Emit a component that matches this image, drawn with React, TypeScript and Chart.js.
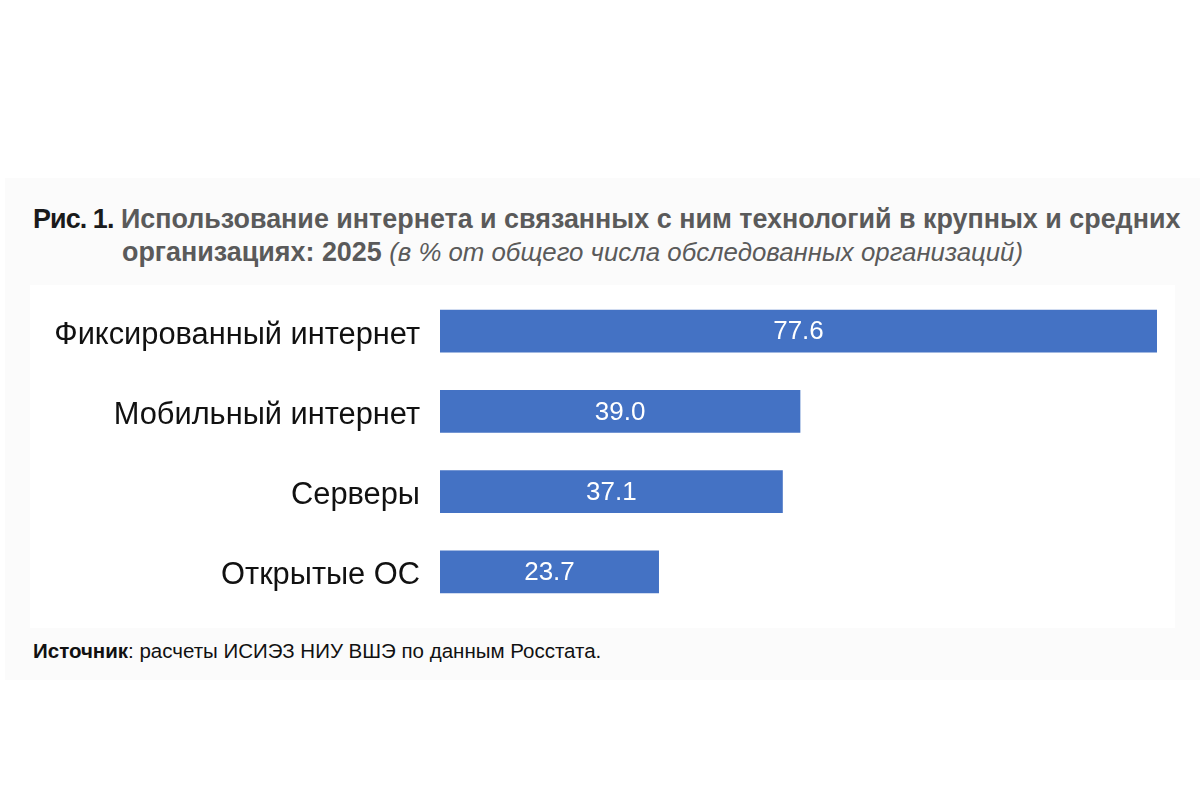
import React, { useEffect, useRef } from "react";
import { Chart, registerables } from "chart.js";

Chart.register(...registerables);

const categories = ["Фиксированный интернет", "Мобильный интернет", "Серверы", "Открытые ОС"];
const values = [77.6, 39.0, 37.1, 23.7];
const valueLabels = ["77.6", "39.0", "37.1", "23.7"];

const FONT = "'Liberation Sans', Arial, sans-serif";

const valueLabelPlugin = {
  id: "valueLabels",
  afterDatasetsDraw(chart: any) {
    const ctx = chart.ctx;
    const meta = chart.getDatasetMeta(0);
    ctx.save();
    ctx.fillStyle = "#ffffff";
    ctx.font = `26px ${FONT}`;
    ctx.textAlign = "center";
    ctx.textBaseline = "middle";
    meta.data.forEach((bar: any, i: number) => {
      const cx = (bar.x + bar.base) / 2;
      ctx.fillText(valueLabels[i], cx, bar.y + 1);
    });
    ctx.restore();
  },
};

function BarChart() {
  const ref = useRef<HTMLCanvasElement | null>(null);
  useEffect(() => {
    if (!ref.current) return;
    const chart = new Chart(ref.current, {
      type: "bar",
      data: {
        labels: categories,
        datasets: [
          {
            data: values,
            backgroundColor: "#4472C4",
            borderWidth: 0,
            barPercentage: 0.535,
            categoryPercentage: 1,
          },
        ],
      },
      options: {
        indexAxis: "y",
        animation: false,
        responsive: true,
        maintainAspectRatio: false,
        layout: { padding: { top: 6, right: 18, bottom: 16, left: 0 } },
        plugins: {
          legend: { display: false },
          tooltip: { enabled: false },
          title: { display: false },
        },
        scales: {
          x: {
            display: false,
            min: 0,
            max: 77.6,
          },
          y: {
            grid: { display: false, drawTicks: false },
            border: { display: false },
            ticks: {
              color: "#111111",
              font: { family: FONT, size: 30.8 },
              padding: 20,
              labelOffset: 4,
            },
            afterFit: (scale: any) => {
              scale.width = 410;
              scale.paddingTop = 0;
              scale.paddingBottom = 0;
            },
          },
        },
      },
      plugins: [valueLabelPlugin],
    });
    return () => chart.destroy();
  }, []);
  return <canvas ref={ref} />;
}

export default function App() {
  return (
    <div
      style={{
        position: "fixed",
        left: 0,
        top: 0,
        width: 1200,
        height: 800,
        background: "#ffffff",
        fontFamily: FONT,
        overflow: "hidden",
      }}
    >
      <div
        style={{
          position: "absolute",
          left: 5,
          top: 178,
          width: 1195,
          height: 502,
          background: "#fbfbfb",
        }}
      />
      <div
        style={{
          position: "absolute",
          left: 30,
          top: 285,
          width: 1145,
          height: 343,
          background: "#ffffff",
        }}
      />
      <div
        style={{
          position: "absolute",
          left: 33,
          top: 203,
          width: 1170,
          fontSize: 26.9,
          fontWeight: "bold",
          color: "#5a5a5a",
          lineHeight: "33px",
          whiteSpace: "nowrap",
        }}
      >
        <div>
          <span style={{ color: "#1a1a1a", letterSpacing: -0.9 }}>Рис. 1.</span> Использование интернета и связанных с ним технологий в крупных и средних
        </div>
        <div style={{ paddingLeft: 89 }}>
          организациях: 2025{" "}
          <span style={{ fontWeight: "normal", fontStyle: "italic", fontSize: 25.8 }}>
            (в % от общего числа обследованных организаций)
          </span>
        </div>
      </div>
      <div
        style={{
          position: "absolute",
          left: 30,
          top: 285,
          width: 1145,
          height: 343,
        }}
      >
        <BarChart />
      </div>
      <div
        style={{
          position: "absolute",
          left: 33,
          top: 639,
          fontSize: 20.5,
          color: "#111111",
          whiteSpace: "nowrap",
        }}
      >
        <b>Источник</b>: расчеты ИСИЭЗ НИУ ВШЭ по данным Росстата.
      </div>
    </div>
  );
}
